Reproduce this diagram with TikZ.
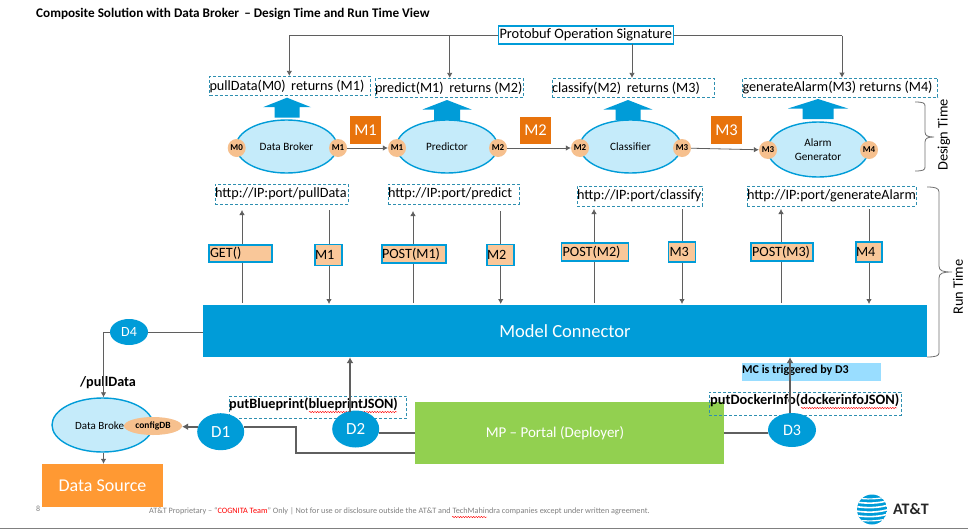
\documentclass[tikz,border=0pt]{standalone}
\usepackage{fontspec}
\setmainfont{Carlito}
\usetikzlibrary{arrows.meta,decorations.pathmorphing,shapes.geometric}
\definecolor{cblue}{HTML}{009CD8}
\definecolor{cline}{HTML}{5F5F5F}
\definecolor{cdash}{HTML}{2E8FB0}
\definecolor{cell}{HTML}{C5EBFA}
\definecolor{cport}{HTML}{F6C08E}
\definecolor{corange}{HTML}{E8730C}
\definecolor{cbox}{HTML}{F9C799}
\definecolor{cgreen}{HTML}{92D050}
\definecolor{csrc}{HTML}{FF9933}
\definecolor{ctrig}{HTML}{99DDFF}
\tikzset{
  x=1pt,y=-1pt,
  px/.style={font=\fontsize{#1}{#1}\selectfont},
  pxb/.style={font=\fontsize{#1}{#1}\selectfont\bfseries},
  lbox/.style={minimum width=#1,execute at begin node={\hbox to #1\bgroup},execute at end node={\hfil\egroup}},
  arr/.style={draw=cline,line width=0.8pt,-{Latex[length=5pt,width=5.5pt]}},
  plain/.style={draw=cline,line width=0.8pt},
  thick arr/.style={draw=cline,line width=1.8pt,-{Latex[length=6pt,width=7pt]}},
  thick line/.style={draw=cline,line width=1.8pt},
  dashbox/.style={draw=cdash,densely dashed,line width=0.7pt,inner sep=0pt,px=14.2},
  opbox/.style={draw=cblue,fill=cbox,line width=1.5pt,inner sep=0pt,px=14.2},
  ell/.style={ellipse,draw=cblue,fill=cell,line width=1.4pt,minimum width=101pt,minimum height=53pt,inner sep=0pt,px=11.2},
  port/.style={circle,fill=cport,minimum size=18pt,inner sep=0pt,pxb=9},
  mtag/.style={fill=corange,text=white,inner sep=0pt,px=16.5,minimum width=31pt},
  dcirc/.style={ellipse,fill=cblue,text=white,inner sep=0pt},
  brace/.style={draw=cline!90,line width=0.8pt},
  squiggle/.style={draw=red,line width=0.4pt,decorate,decoration={snake,amplitude=0.7pt,segment length=2.6pt}},
}
\begin{document}
\begin{tikzpicture}
\useasboundingbox (0,0) rectangle (968,530);
\fill[white] (0,0) rectangle (968,530);
\draw[draw=gray,line width=1pt] (0,528.5) -- (968,528.5);

\node[anchor=west,inner sep=0pt,pxb=13.2] (title) at (36,14) {Composite Solution with Data Broker\, -- Design Time and Run Time View};

% Protobuf box
\node[draw=cblue,line width=1.5pt,minimum height=18pt,inner sep=0pt,px=14.4,lbox=175pt] (pb) at (586,35) {\hspace{1pt}Protobuf Operation Signature};

% op boxes
\node[dashbox,lbox=161pt,minimum height=19.5pt] (op1) at (290,86) {pullData(M0)\, returns (M1)};
\node[dashbox,lbox=148pt,minimum height=19.5pt] (op2) at (449,88) {predict(M1)\, returns (M2)};
\node[dashbox,lbox=162pt,minimum height=19.5pt] (op3) at (633,88) {classify(M2)\, returns (M3)};
\node[dashbox,lbox=195pt,minimum height=19pt] (op4) at (840,87.5) {generateAlarm(M3) returns (M4)};

\coordinate (pbL) at (289.3,35.5);
\coordinate (pbL2) at (449.7,35.5);
\coordinate (pbM) at (632,44);
\coordinate (pbR) at (842,35.5);
\draw[plain] (pb.west |- pbL) -- (pbL);
\draw[arr] (pbL) -- (pbL |- op1.north);
\draw[arr] (pbL2) -- (pbL2 |- op2.north);
\draw[plain] (pb.east |- pbR) -- (pbR);
\draw[arr] (pbR) -- (pbR |- op4.north);
\draw[arr] (pbM) -- (pbM |- op3.north);

% up arrows
\foreach \cx/\ty/\hw/\sw in {287/97.7/24/12.5,447/100/24.5/13,628/100/24.3/12.5,818/99/30/15.5}{
  \fill[cblue] (\cx-\hw,\ty+9.5) -- (\cx,\ty) -- (\cx+\hw,\ty+9.5) -- (\cx+\sw,\ty+9.5) -- (\cx+\sw,\ty+20) -- (\cx-\sw,\ty+20) -- (\cx-\sw,\ty+9.5) -- cycle;
}

% ellipses
\node[ell] (e1) at (286.5,146.5) {Data Broker};
\node[ell] (e2) at (447,146.5) {Predictor};
\node[ell] (e3) at (630.5,146.5) {Classifier};
\node[ell,align=center,minimum height=55pt] (e4) at (818,149.5) {Alarm\\[3pt]Generator};

\node[port] (p10) at (236.7,148) {M0};
\node[port] (p11) at (338,148) {M1};
\node[port] (p21) at (397,148) {M1};
\node[port] (p22) at (498,148) {M2};
\node[port] (p32) at (580,148) {M2};
\node[port] (p33) at (682,148) {M3};
\node[port] (p43) at (768,150) {M3};
\node[port] (p44) at (869,150) {M4};
\draw[arr] (p11) -- (p21);
\draw[arr] (p22) -- (p32);
\draw[arr] (p33) -- (p43);

\node[mtag,minimum height=28pt] (m1) at (365.5,130) {M1};
\node[mtag,minimum height=27pt] (m2) at (535.5,130.5) {M2};
\node[mtag,minimum height=28pt] (m3) at (726.5,130) {M3};

% url boxes
\node[dashbox,lbox=133pt,minimum height=20pt] (u1) at (281.5,194) {http://IP:port/pullData};
\node[dashbox,lbox=131pt,minimum height=20pt] (u2) at (453.5,194) {http://IP:port/predict};
\node[dashbox,lbox=125pt,minimum height=20pt] (u3) at (639.5,196) {http://IP:port/classify};
\node[dashbox,lbox=169pt,minimum height=20pt] (u4) at (831.5,196) {http://IP:port/generateAlarm};

% model connector
\node[fill=cblue,text=white,minimum width=724pt,minimum height=52pt,inner sep=0pt,px=18.5] (mc) at (565,331) {Model Connector};

% vertical connectors
\foreach \x/\t in {242/210,413/211,594/209,781/209}
  \draw[arr] (\x,303) -- (\x,\t);
\foreach \x/\t in {329/210,500.7/211,682/209,869/209}
  \draw[arr] (\x,\t) -- (\x,304);

\node[opbox,lbox=63pt,minimum height=17pt] (g1) at (240.5,253.5) {\hspace{1pt}GET()};
\node[opbox,lbox=27pt,minimum height=21pt] (r1) at (328.5,255) {M1};
\node[opbox,lbox=64pt,minimum height=18pt] (g2) at (414,254) {POST(M1)};
\node[opbox,lbox=27pt,minimum height=21pt] (r2) at (500.5,255) {M2};
\node[opbox,lbox=67pt,minimum height=18pt] (g3) at (595,252) {\hspace{1pt}POST(M2)};
\node[opbox,lbox=27pt,minimum height=20pt] (r3) at (682,252) {\hspace{1pt}M3};
\node[opbox,lbox=62pt,minimum height=18pt] (g4) at (782,252) {\hspace{1pt}POST(M3)};
\node[opbox,lbox=26pt,minimum height=20pt] (r4) at (869,252) {M4};

% braces
\draw[brace] (915,102) .. controls (923,102) and (925,103) .. (925,106) -- (925,132) .. controls (925,136) and (928,137) .. (934,137) .. controls (928,137) and (925,138) .. (925,142) -- (925,167) .. controls (925,170) and (923,171) .. (915,171);
\node[rotate=90,px=14.4] (dt) at (944,135) {Design Time};
\draw[brace] (927,187) .. controls (935,187) and (939,188) .. (939,192) -- (939,266) .. controls (939,271) and (943,272) .. (952,272) .. controls (943,272) and (939,273) .. (939,278) -- (939,353) .. controls (939,356) and (935,357) .. (927,357);
\node[rotate=90,px=14.4] (rt) at (958,287) {Run Time};

% lower part
\node[dcirc,minimum width=38pt,minimum height=26pt,px=14] (d4) at (129,332) {D4};
\node[ell,minimum width=101pt,minimum height=54pt] (db) at (102.5,425) {};
\node[px=11,anchor=west,inner sep=0pt] (dbt) at (75,425.5) {Data Broke};
\node[ellipse,fill=cport,minimum width=58pt,minimum height=18pt,inner sep=0pt,pxb=9.5] (cfg) at (153,426) {configDB};
\node[fill=csrc,text=white,minimum width=121pt,minimum height=43pt,inner sep=0pt,px=18] (ds) at (102.5,485.5) {Data Source};
\node[pxb=14.2] (pd) at (108,382.7) {/pullData};

\coordinate (d4c) at (103.5,332);
\draw[plain] (mc.west |- d4) -- (d4);
\draw[plain] (d4) -- (d4c);
\draw[arr] (d4c) -- (d4c |- db.north);
\draw[arr] (db.south -| d4c) -- (d4c |- ds.north);

\node[fill=cgreen,minimum width=309pt,minimum height=62pt,inner sep=0pt] (mp) at (569.5,433) {};
\node[text=white,px=15,inner sep=0pt] (mpt) at (555,433) {MP -- Portal (Deployer)};

\node[dashbox,minimum width=177.5pt,minimum height=22.5pt] (pb1) at (318,407.5) {};
\node[pxb=14.2,inner sep=0pt] (pbt) at (313.5,404) {putBlueprint(blueprintJSON)};
\coordinate (sq1a) at (309,412);
\coordinate (sq1b) at (397,412);
\draw[squiggle] (sq1a) -- (sq1b);

\node[dashbox,minimum width=192pt,minimum height=23pt] (pd1) at (805,403.5) {};
\node[pxb=14.4,inner sep=0pt,anchor=west] (pdt) at (710,400.7) {putDockerInfo(dockerinfoJSON)};
\coordinate (sq2a) at (801,408);
\coordinate (sq2b) at (897,408);
\draw[squiggle] (sq2a) -- (sq2b);

\node[fill=ctrig,minimum width=139pt,minimum height=18pt,inner sep=0pt] (trig) at (811.5,372) {};
\node[anchor=west,inner sep=0pt,pxb=12] (trigt) at (742,370) {MC is triggered by D3};

\node[dcirc,minimum width=47pt,minimum height=37pt,px=17] (d1) at (220.7,431.7) {D1};
\node[dcirc,minimum width=47pt,minimum height=37pt,px=17] (d2) at (355.7,429) {D2};
\node[dcirc,minimum width=48pt,minimum height=34pt,px=16] (d3) at (792,430) {D3};

\coordinate (a2) at (350,412);
\coordinate (a3) at (790,413);
\draw[thick arr] (a2) -- (a2 |- mc.south);
\draw[thick arr] (a3) -- (a3 |- mc.south);
\coordinate (l2) at (379,432.7);
\coordinate (l3) at (724,432.7);
\draw[thick line] (l2) -- (l2 -| mp.west);
\draw[thick line] (d3.west |- l3) -- (l3);
\coordinate (k0) at (244,427);
\coordinate (k1) at (296,427);
\coordinate (k2) at (296,452.7);
\draw[thick line] (k0) -- (k1) -- (k2) -- (k2 -| mp.west);
\coordinate (k3) at (197.5,426.7);
\draw[thick arr] (k3) -- (k3 -| cfg.east);

% footer
\node[anchor=west,inner sep=0pt,px=8,text=gray] (n8) at (36,508.5) {8};
\node[anchor=west,inner sep=0pt,text=gray,px=8.2] (ft) at (149,511) {AT\&T Proprietary -- ``\textcolor{red}{COGNITA Team}'' Only | Not for use or disclosure outside the AT\&T and TechMahindra companies except under written agreement.};
\coordinate (sq3a) at (452,517);
\coordinate (sq3b) at (487,517);
\draw[squiggle] (sq3a) -- (sq3b);

% logo
\begin{scope}
\clip (872,509.5) circle (15);
\fill[cblue] (872,509.5) circle (15);
\foreach \y/\h in {497/1.2,501/1.6,505.5/1.6,510/1.6,514.5/1.6,519/1.2}
  \fill[white] (855,\y) .. controls (865,\y+2) and (880,\y+2) .. (890,\y-2) -- (890,\y-2+\h) .. controls (880,\y+2+\h) and (865,\y+2+\h) .. (855,\y+\h) -- cycle;
\end{scope}
\node[anchor=west,inner sep=0pt,pxb=16,text=black!85] (att) at (893,509) {AT\&T};
\end{tikzpicture}
\end{document}
